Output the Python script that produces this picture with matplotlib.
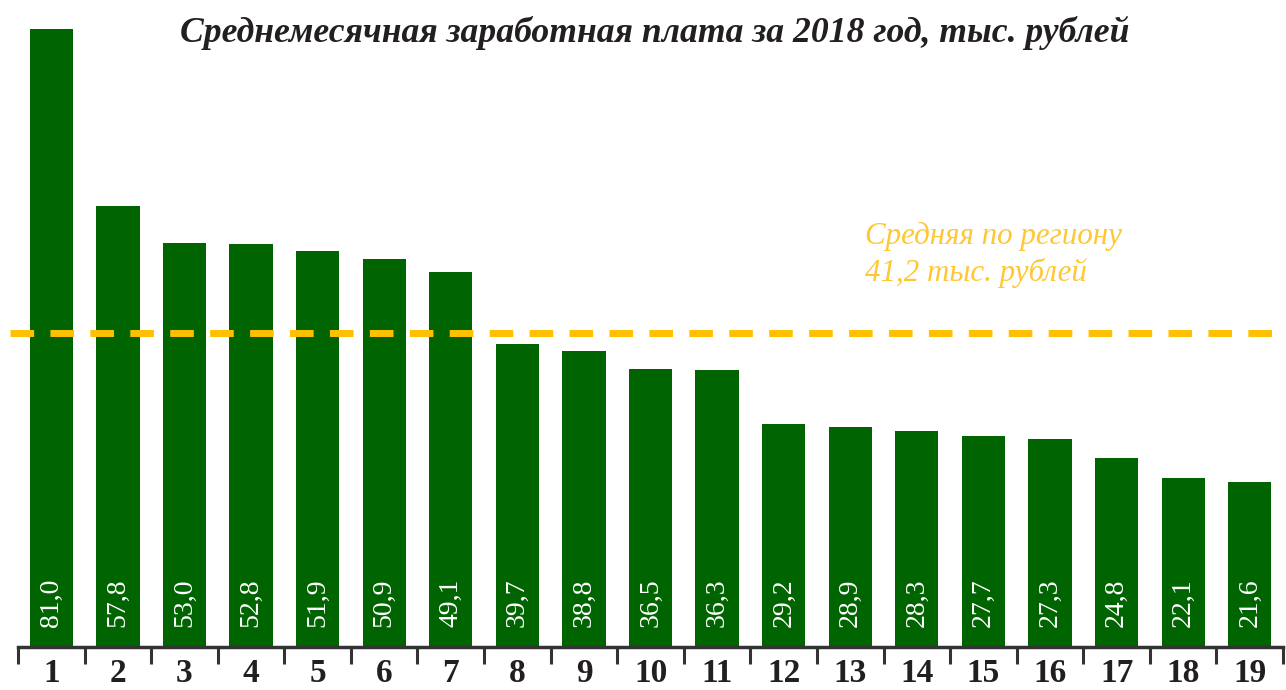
import matplotlib.pyplot as plt

GREEN = "#006400"
YELLOW = "#FFC000"
YELLOW_TXT = "#FFC733"
DARK = "#231F20"

REGIONS = [str(i) for i in range(1, 20)]
SALARY = [81.0, 57.8, 53.0, 52.8, 51.9, 50.9, 49.1, 39.7, 38.8, 36.5,
          36.3, 29.2, 28.9, 28.3, 27.7, 27.3, 24.8, 22.1, 21.6]
AVERAGE = 41.2

TITLE = "Среднемесячная заработная плата за 2018 год, тыс. рублей"
AVG_LABEL = "Средняя по региону\n41,2 тыс. рублей"

SERIF = ["Liberation Serif", "DejaVu Serif"]


def main():
    fig = plt.figure(figsize=(12.86, 6.9), dpi=100)
    ax = fig.add_axes([0.014, 0.0623, 0.9837, 0.9377])

    xs = list(range(len(REGIONS)))
    ax.bar(xs, SALARY, width=0.65, color=GREEN, zorder=2)

    # value labels, rotated, at the foot of each bar
    for x, v in zip(xs, SALARY):
        ax.text(x, 2.6, f"{v:.1f}".replace(".", ","), rotation=90,
                ha="center", va="bottom", color="white",
                fontsize=20, family=SERIF, zorder=3)

    # regional average (runs a little past the axis on both sides)
    ax.plot([-0.62, 18.75], [AVERAGE, AVERAGE], color=YELLOW, lw=5,
            ls=(0, (3.4, 2.35)), zorder=4, clip_on=False)
    ax.text(12.22, 51.4, AVG_LABEL, color=YELLOW_TXT, fontsize=22.3,
            style="italic", family=SERIF, ha="left", va="center",
            linespacing=1.3)

    ax.set_xlim(-0.5, len(REGIONS) - 0.5)
    ax.set_ylim(0, 84.8)

    for s in ("top", "right", "left"):
        ax.spines[s].set_visible(False)
    ax.spines["bottom"].set_color("#333333")
    ax.spines["bottom"].set_linewidth(2.5)
    ax.set_yticks([])

    # boundary tick marks + labels at centres
    ax.set_xticks([x - 0.5 for x in xs] + [len(REGIONS) - 0.5])
    ax.set_xticklabels([])
    ax.set_xticks(xs, minor=True)
    ax.set_xticklabels(REGIONS, minor=True, fontsize=24, fontweight="bold",
                       family=SERIF, color=DARK)
    ax.tick_params(axis="x", which="major", length=12, width=2.2,
                   color="#333333", direction="out")
    ax.tick_params(axis="x", which="minor", length=0, pad=8)

    fig.text(0.509, 0.952, TITLE, ha="center", va="center", fontsize=25.7,
             fontweight="bold", style="italic", family=SERIF, color=DARK)

    fig.savefig("out.png", dpi=100, facecolor="white")
    plt.close(fig)


if __name__ == "__main__":
    main()
